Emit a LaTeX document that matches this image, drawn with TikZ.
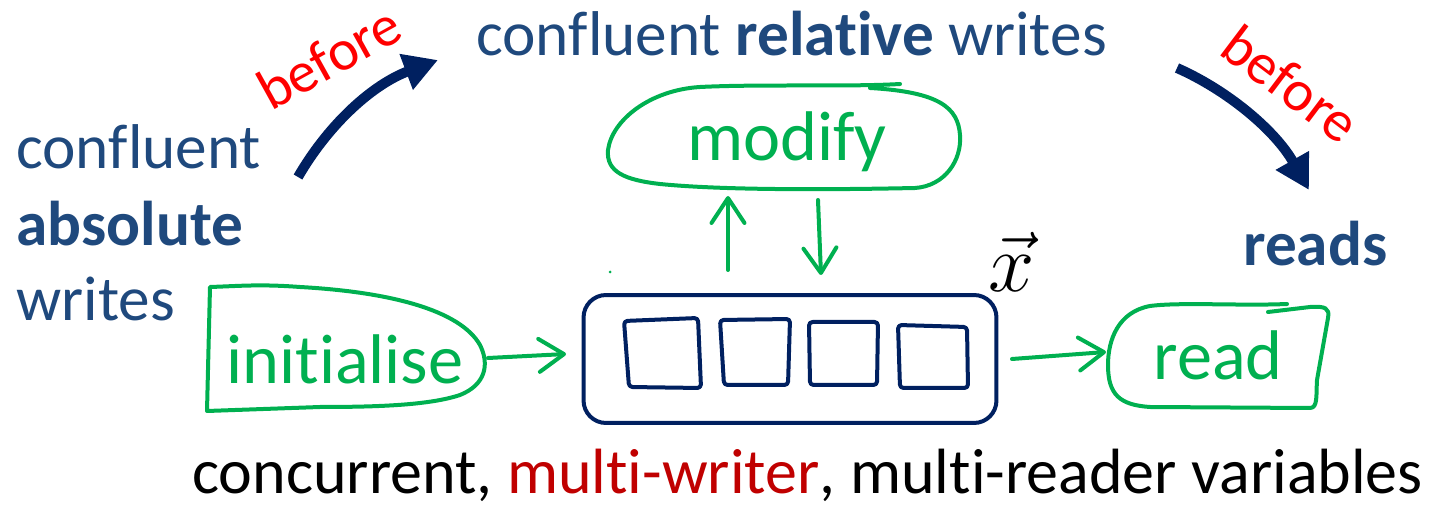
\documentclass[tikz,border=0pt]{standalone}
\usepackage{fontspec}
\setmainfont{Carlito}[Ligatures=NoCommon]
\usetikzlibrary{arrows.meta}

\definecolor{bluetext}{RGB}{31,73,125}
\definecolor{navy}{RGB}{0,32,96}
\definecolor{penGreen}{RGB}{0,176,80}
\definecolor{darkred}{RGB}{192,0,0}

\tikzset{
  bluetxt/.style={text=bluetext, font=\fontsize{36}{43}\selectfont, inner sep=0pt},
  plaintxt/.style={text=black, font=\fontsize{36.4}{43}\selectfont, inner sep=0pt},
  beforetxt/.style={text=red, font=\fontsize{33}{38}\selectfont, inner sep=0pt},
  hand/.style={text=penGreen, font=\fontsize{40}{46}\selectfont, inner sep=0pt},
  gline/.style={draw=penGreen, line width=0.08cm, line cap=round, line join=round},
  nline/.style={draw=navy, line width=0.08cm, line cap=round, line join=round, rounded corners=2pt},
  vecbox/.style={draw=navy, line width=0.08cm, rounded corners=0.45cm,
    minimum width=8.26cm, minimum height=2.56cm, inner sep=0pt},
  harrow/.style={gline, -{Straight Barb[length=0.5cm, width=0.66cm, round]}},
  bigarrow/.style={draw=navy, line width=0.2cm, -{Triangle[length=0.68cm, width=0.72cm]}},
}

\begin{document}
\begin{tikzpicture}[x=0.02cm, y=-0.02cm]
\useasboundingbox (0,0) rectangle (1430,509);

% --- labels ---
\node[bluetxt, anchor=base west] (abs1) at (16,169) {confluent};
\node[bluetxt, anchor=base west] (abs2) at (16,246) {\textbf{absolute}};
\node[bluetxt, anchor=base west] (abs3) at (16,321) {writes};
\node[bluetxt, anchor=base west] (rel) at (476,56) {confluent \textbf{relative} writes};
\node[bluetxt, anchor=base west] (reads) at (1243,266) {\textbf{reads}};
\node[plaintxt, anchor=base west] (caption) at (192,494)
  {concurrent, \textcolor{darkred}{multi-writer}, multi-reader variables};

\node[beforetxt, rotate=29] (bef1) at (329,57) {before};
\node[beforetxt, rotate=-37] (bef2) at (1291,84) {before};

% --- ordering arrows ---
\coordinate (absOut) at (298,177);
\coordinate (relIn) at (438,60);
\coordinate (relOut) at (1177,68);
\coordinate (readsIn) at (1309,190);
\draw[bigarrow] (absOut) .. controls (330,122) and (374,84) .. (relIn);
\draw[bigarrow] (relOut) .. controls (1227,90) and (1275,130) .. (readsIn);

% --- the shared vector ---
\node[vecbox] (vec) at (790,359) {};
\draw[nline] (624,321) -- (698,318) -- (701,388) -- (629,387) -- cycle;
\draw[nline] (720,320) -- (790,319) -- (788,385) -- (724,385) -- cycle;
\draw[nline] (809,322) -- (878,322) -- (877,385) -- (810,385) -- cycle;
\draw[nline] (898,325) -- (967,327) -- (968,388) -- (900,388) -- cycle;
\node[anchor=base, inner sep=0pt, scale=1.9] (xvec) at (1012,292)
  {\fontsize{24.88}{30}\selectfont$\vec{x}$};

% --- initialise ---
\node[hand, anchor=base] (init) at (345,384) {initialise};
\draw[gline] (210,287) .. controls (240,286) and (260,284) .. (300,287)
  .. controls (390,292) and (460,310) .. (480,345)
  .. controls (490,365) and (485,385) .. (460,395)
  .. controls (430,405) and (380,407) .. (320,407)
  -- (207,411) -- cycle;

% --- modify ---
\node[hand, anchor=base] (modify) at (787,161) {modify};
\draw[gline] (900,84) .. controls (850,87) and (760,84) .. (700,87)
  .. controls (650,90) and (612,120) .. (608,150)
  .. controls (606,172) and (625,180) .. (660,184)
  .. controls (720,190) and (820,190) .. (915,188)
  .. controls (945,186) and (962,160) .. (960,135)
  .. controls (958,108) and (940,92) .. (870,88);

% --- read ---
\node[hand, anchor=base] (read) at (1218,380) {read};
\draw[gline] (1287,304) .. controls (1240,306) and (1180,302) .. (1150,306)
  .. controls (1118,312) and (1108,340) .. (1108,365)
  .. controls (1108,395) and (1120,405) .. (1150,407)
  -- (1310,408) .. controls (1318,408) and (1316,395) .. (1317,380)
  -- (1328,318) .. controls (1330,308) and (1325,306) .. (1310,307)
  -- (1268,312);

% --- pen strokes between the boxes ---
\coordinate (initTip) at (488,358);
\coordinate (vecIn) at (566,354);
\coordinate (vecOut) at (1012,359);
\coordinate (readIn) at (1106,352);
\coordinate (upFrom) at (728,270);
\coordinate (upTo) at (728,196);
\coordinate (downFrom) at (818,200);
\coordinate (downTo) at (821,275);
\draw[harrow] (initTip) -- (vecIn);
\draw[harrow] (vecOut) -- (readIn);
\draw[harrow] (upFrom) -- (upTo);
\draw[harrow] (downFrom) -- (downTo);
\fill[penGreen] (610,272) circle (1.5);
\end{tikzpicture}
\end{document}
